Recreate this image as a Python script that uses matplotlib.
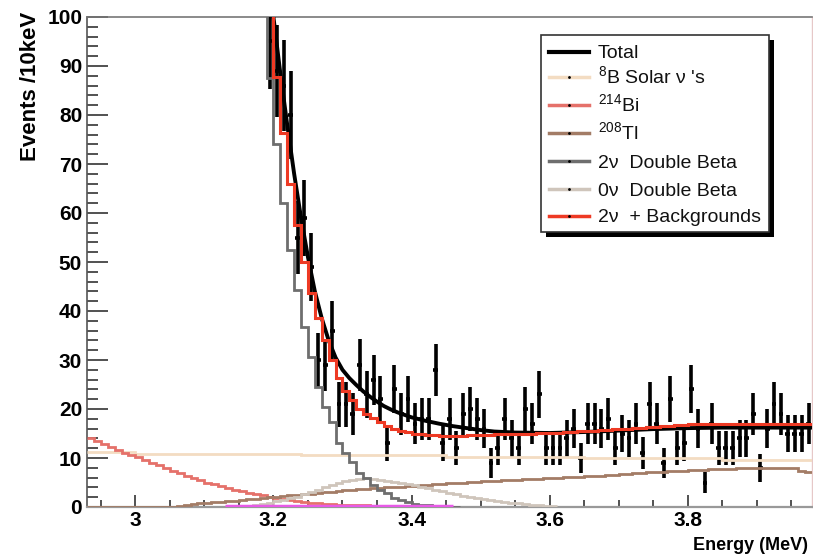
import numpy as np
import matplotlib
matplotlib.use("Agg")
import matplotlib.pyplot as plt
from matplotlib.lines import Line2D
from matplotlib.patches import Rectangle
from matplotlib.ticker import MultipleLocator

plt.rcParams['font.family'] = ['Liberation Sans', 'DejaVu Sans']
plt.rcParams['mathtext.fontset'] = 'custom'
plt.rcParams['mathtext.rm'] = 'Liberation Sans'
plt.rcParams['mathtext.it'] = 'Liberation Sans:italic'
plt.rcParams['mathtext.bf'] = 'Liberation Sans:bold'

BIN = 0.01  # MeV per bin (10 keV)

# ---- measured spectrum (bin centres start at 3.195 MeV) ----
data_start = 3.195
data_counts = [95, 89, 86, 80, 55, 59, 49, 30, 29, 36,
               21, 21, 19, 29, 23, 26, 22, 13, 24, 19,
               22, 17, 18, 18, 28, 13, 18, 12, 19, 20,
               18, 16, 9, 12, 18, 14, 12, 20, 17, 23,
               12, 12, 12, 14, 16, 10, 17, 17, 16, 18,
               12, 15, 14, 17, 11, 21, 17, 9, 22, 12,
               13, 24, 16, 5, 17, 12, 12, 12, 14, 14,
               19, 8, 16, 21, 19, 15, 15, 15, 17]

# ---- fitted total ----
total_energy = [3.19, 3.20, 3.21, 3.22, 3.23, 3.24, 3.25, 3.26, 3.27, 3.28,
                3.29, 3.30, 3.31, 3.32, 3.33, 3.34, 3.35, 3.36, 3.37, 3.38,
                3.40, 3.42, 3.44, 3.46, 3.48, 3.50, 3.52, 3.55, 3.60, 3.65,
                3.70, 3.75, 3.80, 3.85, 3.90, 3.98]
total_value = [113, 100, 88.5, 78, 68, 59, 51, 44, 38.5, 34,
               30.5, 28, 26.3, 24.9, 23.6, 22.5, 21.5, 20.6, 19.9, 19.3,
               18.3, 17.6, 17.0, 16.5, 16.1, 15.7, 15.4, 15.2, 15.1, 15.3,
               15.6, 15.9, 16.1, 16.2, 16.2, 16.2]

# ---- 8B solar neutrinos (levels and their lengths in bins, from 2.93 MeV) ----
solar_start = 2.93
solar_levels = [11.3, 10.9, 10.7, 10.2, 9.9, 9.5]
solar_nbins = [7, 24, 21, 20, 20, 13]

# ---- 214Bi (from 2.93 MeV) ----
bi_start = 2.93
bi_values = [14.0, 13.4, 12.8, 12.2, 11.6, 11.1, 10.7, 10.2, 9.6, 9.0,
             8.5, 7.9, 7.4, 6.9, 6.4, 5.9, 5.5, 5.0, 4.6, 4.2,
             3.8, 3.5, 3.2, 2.9, 2.6, 2.4, 2.1, 1.9, 1.7, 1.5,
             1.3, 1.1, 0.9, 0.8, 0.7, 0.6, 0.5, 0.45, 0.4, 0.4,
             0.35, 0.3, 0.3, 0.3, 0.25, 0.25, 0.2, 0.2, 0.2, 0.15,
             0.15, 0.1]

# ---- 208Tl (from 2.93 MeV) ----
tl_start = 2.93
tl_values = [0.1, 0.1, 0.1, 0.1, 0.1, 0.1, 0.1, 0.1, 0.1, 0.1,
             0.1, 0.1, 0.1, 0.3, 0.5, 0.6, 0.8, 0.9, 1.0, 1.1,
             1.2, 1.3, 1.4, 1.6, 1.7, 1.8, 2.0, 2.1, 2.2, 2.4,
             2.5, 2.6, 2.7, 2.9, 3.0, 3.1, 3.2, 3.4, 3.5, 3.6,
             3.7, 3.8, 3.9, 4.0, 4.0, 4.1, 4.2, 4.3, 4.4, 4.5,
             4.6, 4.7, 4.8, 4.9, 5.0, 5.1, 5.2, 5.3, 5.3, 5.4,
             5.5, 5.5, 5.6, 5.7, 5.7, 5.8, 5.9, 5.9, 6.0, 6.1,
             6.1, 6.2, 6.3, 6.4, 6.4, 6.5, 6.6, 6.7, 6.8, 6.9,
             7.0, 7.1, 7.1, 7.2, 7.3, 7.4, 7.4, 7.5, 7.6, 7.6,
             7.7, 7.7, 7.8, 7.8, 7.9, 8.0, 8.0, 8.0, 8.0, 8.0,
             8.0, 8.0, 7.9, 7.4, 7.2]

# ---- 2nu double beta (from 3.16 MeV) ----
dbd2_start = 3.16
dbd2_values = [148, 124, 104, 87.5, 74, 62, 52.4, 44.3, 36.7, 30.6,
               24.5, 20.4, 17.3, 13.0, 11.0, 9.2, 6.9, 5.9, 4.5, 3.5,
               2.8, 1.8, 1.4, 1.0, 0.7, 0.5, 0.4, 0.3, 0.2, 0.1, 0.05]

# ---- 0nu double beta (from 3.15 MeV) ----
dbd0_start = 3.15
dbd0_values = [0.2, 0.3, 0.5, 0.7, 0.9, 1.2, 1.5, 1.8, 2.1, 2.6,
               3.0, 3.5, 4.0, 4.5, 4.9, 5.3, 5.6, 5.8, 5.9, 5.8,
               5.6, 5.4, 5.1, 4.8, 4.6, 4.4, 4.1, 3.8, 3.5, 3.2,
               2.9, 2.6, 2.3, 2.0, 1.8, 1.6, 1.4, 1.2, 1.0, 0.9,
               0.8, 0.6, 0.5, 0.4, 0.3, 0.2]

# ---- low-level component along the baseline (from 3.13 MeV) ----
low_start = 3.13
low_values = [0.2] * 33

# ---- 2nu + backgrounds (from 3.18 MeV) ----
sum_start = 3.18
sum_values = [118, 101.5, 87.8, 76.3, 66, 57.5, 50, 43.7, 38.6, 34,
              30, 26.3, 23.6, 21.8, 20.0, 19.0, 18.2, 17.4, 16.6, 16.0,
              15.6, 15.3, 15.0, 14.8, 14.7, 14.6, 14.5, 14.5, 14.5, 14.5,
              14.6, 14.6, 14.7, 14.7, 14.8, 14.8, 14.9, 14.9, 15.0, 15.0,
              15.1, 15.1, 15.2, 15.2, 15.3, 15.4, 15.5, 15.5, 15.6, 15.7,
              15.8, 15.9, 15.9, 16.0, 16.1, 16.2, 16.3, 16.4, 16.5, 16.6,
              16.7, 16.8, 16.9, 16.9, 16.9, 16.9, 16.9, 16.9, 16.9, 16.9,
              16.9, 16.9, 16.9, 16.9, 16.9, 16.9, 16.9, 16.9, 16.9, 16.9]

colors = {
    'total': '#000000',
    'solar': '#f3dcc2',
    'bi': '#e5716a',
    'tl': '#a37c66',
    'dbd2': '#6e6e6e',
    'dbd0': '#cfc5bb',
    'sum': '#ee3a24',
    'low': '#e85ae8',
}

W, H = 813, 555
fig = plt.figure(figsize=(W / 100, H / 100), dpi=100)
ax = fig.add_axes([87 / W, 48 / H, 725 / W, 490 / H])


def draw_hist(start, values, **kw):
    values = np.asarray(values, dtype=float)
    edges = start + BIN * np.arange(len(values) + 1)
    ax.stairs(values, edges, baseline=None, **kw)


# data points with Poisson errors
counts = np.asarray(data_counts, dtype=float)
centres = data_start + BIN * np.arange(len(counts))
ax.errorbar(centres, counts, yerr=np.sqrt(counts), xerr=0.0035, fmt='none',
            ecolor='black', elinewidth=2.6, capsize=0, zorder=3)

ax.plot(total_energy, total_value, color=colors['total'], lw=2.8,
        solid_joinstyle='round', zorder=4)

draw_hist(solar_start, np.repeat(solar_levels, solar_nbins),
          color=colors['solar'], lw=2.0, zorder=5)
draw_hist(bi_start, bi_values, color=colors['bi'], lw=2.0, zorder=5)
draw_hist(tl_start, tl_values, color=colors['tl'], lw=2.0, zorder=5)
draw_hist(dbd0_start, dbd0_values, color=colors['dbd0'], lw=2.0, zorder=5)
draw_hist(dbd2_start, dbd2_values, color=colors['dbd2'], lw=2.0, zorder=6)
draw_hist(low_start, low_values, color=colors['low'], lw=2.5, zorder=6)
draw_hist(sum_start, sum_values, color=colors['sum'], lw=2.2, zorder=7)

ax.set_xlim(2.93, 3.98)
ax.set_ylim(0, 100)

ax.xaxis.set_major_locator(MultipleLocator(0.2))
ax.xaxis.set_minor_locator(MultipleLocator(0.05))
ax.yaxis.set_major_locator(MultipleLocator(10))
ax.yaxis.set_minor_locator(MultipleLocator(2))
ax.xaxis.set_major_formatter(plt.FuncFormatter(lambda v, p: f"{v:g}"))

ax.tick_params(axis='both', which='both', direction='in', colors='#333333',
               width=1.2, top=False, right=False)
ax.tick_params(axis='y', which='major', length=15, pad=3.5)
ax.tick_params(axis='y', which='minor', length=8)
ax.tick_params(axis='x', which='major', length=8.6, pad=3)
ax.tick_params(axis='x', which='minor', length=4.7)
for lab in ax.get_xticklabels() + ax.get_yticklabels():
    lab.set_fontsize(15)
    lab.set_fontweight('bold')
    lab.set_color('black')

ax.spines['left'].set_color('#555555')
ax.spines['left'].set_linewidth(1.2)
ax.spines['bottom'].set_color('#999999')
ax.spines['bottom'].set_linewidth(1.6)
ax.spines['top'].set_color('#777777')
ax.spines['top'].set_linewidth(1.2)
ax.spines['right'].set_color('#e6c8c8')
ax.spines['right'].set_linewidth(1.0)

fig.text(30 / W, 1 - 12 / H, 'Events /10keV', rotation=90, ha='center',
         va='top', fontsize=16, fontweight='bold')
fig.text(808 / W, 1 - 537 / H, 'Energy (MeV)', ha='right', va='top',
         fontsize=13, fontweight='bold')


# ---- legend box with drop shadow ----
def fx(px):
    return px / W


def fy(py):
    return 1 - py / H


fig.patches.append(Rectangle((fx(546), fy(237)), fx(774) - fx(546),
                             fy(40) - fy(237), transform=fig.transFigure,
                             facecolor='black', edgecolor='none', zorder=10))
fig.patches.append(Rectangle((fx(541), fy(232)), fx(769) - fx(541),
                             fy(35) - fy(232), transform=fig.transFigure,
                             facecolor='white', edgecolor='#333333', lw=1.2,
                             zorder=11))

legend_entries = [
    ('Total', colors['total'], 3.0),
    ("$^{\\mathrm{8}}$B Solar ν 's", colors['solar'], 2.5),
    ("$^{\\mathrm{214}}$Bi", colors['bi'], 2.5),
    ("$^{\\mathrm{208}}$Tl", colors['tl'], 2.5),
    ('2ν  Double Beta', colors['dbd2'], 2.5),
    ('0ν  Double Beta', colors['dbd0'], 2.5),
    ('2ν  + Backgrounds', colors['sum'], 2.5),
]
row_y = [51.7, 77, 105, 133, 161, 189, 216]
for (label, col, lw), yy in zip(legend_entries, row_y):
    fig.lines.append(Line2D([fx(549), fx(589)], [fy(yy), fy(yy)],
                            transform=fig.transFigure, color=col, lw=lw,
                            zorder=12))
    if label != 'Total':
        fig.lines.append(Line2D([fx(569)], [fy(yy)], transform=fig.transFigure,
                                marker='.', ms=2, color='black', lw=0,
                                zorder=13))
    fig.text(fx(598), fy(yy + 6.5), label, ha='left', va='baseline',
             fontsize=14, color='#111111', zorder=13)

fig.savefig('out.png', dpi=100)
